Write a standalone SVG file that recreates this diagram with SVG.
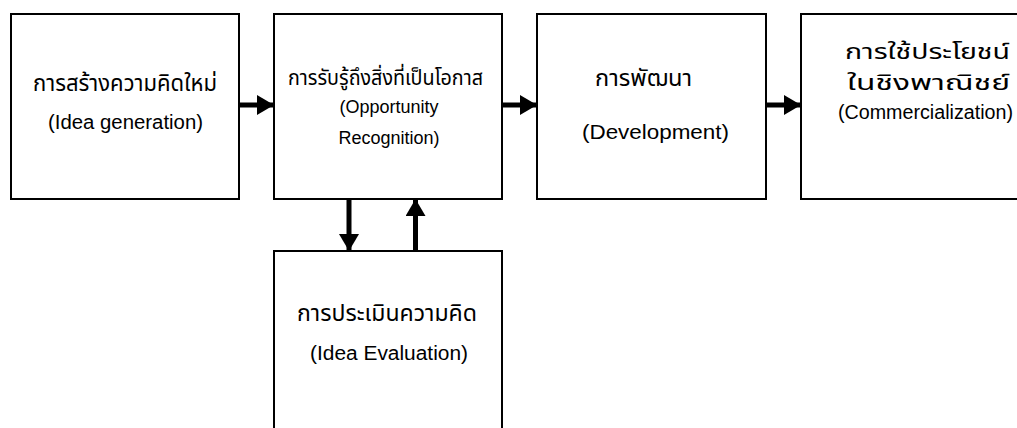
<svg xmlns="http://www.w3.org/2000/svg" width="1017" height="428" viewBox="0 0 1017 428">
<style>
.box{fill:#fff;stroke:#000;stroke-width:2}
.t{font-family:"Liberation Sans","Noto Sans Thai","Noto Sans",sans-serif;font-size:20px;fill:#000;text-anchor:middle}
.th{font-size:23px}
.s{font-size:18px}
.c{stroke:#000;stroke-width:5;fill:none}
</style>
<defs>
<marker id="ah" viewBox="0 0 17 20" refX="17" refY="10" markerWidth="17" markerHeight="20" markerUnits="userSpaceOnUse" orient="auto">
<path d="M0,0 L17,10 L0,20 z" fill="#000"/>
</marker>
</defs>
<rect width="1017" height="428" fill="#fff"/>
<g id="n1">
<rect class="box" x="11" y="14" width="228" height="185"/>
<text class="t th" x="125" y="91" textLength="184" lengthAdjust="spacingAndGlyphs">การสร้างความคิดใหม่</text>
<text class="t" x="125.5" y="129" textLength="155" lengthAdjust="spacingAndGlyphs">(Idea generation)</text>
</g>
<g id="n2">
<rect class="box" x="274" y="14" width="228" height="185"/>
<text class="t" style="font-size:21px" x="385.5" y="85" textLength="195" lengthAdjust="spacingAndGlyphs">การรับรู้ถึงสิ่งที่เป็นโอกาส</text>
<text class="t s" x="389" y="113">(Opportunity</text>
<text class="t s" x="389" y="144">Recognition)</text>
</g>
<g id="n3">
<rect class="box" x="537" y="14" width="229" height="185"/>
<text class="t th" x="643.5" y="86" textLength="97" lengthAdjust="spacingAndGlyphs">การพัฒนา</text>
<text class="t" x="655.5" y="139" textLength="147" lengthAdjust="spacingAndGlyphs">(Development)</text>
</g>
<g id="n4">
<rect class="box" x="801" y="14" width="250" height="185"/>
<text class="t" style="font-size:22px" x="927.5" y="59" textLength="165" lengthAdjust="spacingAndGlyphs">การใช้ประโยชน์</text>
<text class="t" style="font-size:22px" x="928.5" y="90" textLength="163" lengthAdjust="spacingAndGlyphs">ในชิงพาณิชย์</text>
<text class="t" x="925.5" y="119" textLength="175" lengthAdjust="spacingAndGlyphs">(Commercialization)</text>
</g>
<g id="n5">
<rect class="box" x="274" y="251" width="228" height="200"/>
<text class="t th" x="387" y="321" textLength="180" lengthAdjust="spacingAndGlyphs">การประเมินความคิด</text>
<text class="t" x="389" y="360" textLength="158" lengthAdjust="spacingAndGlyphs">(Idea Evaluation)</text>
</g>
<g id="connectors">
<line class="c" x1="239" y1="105" x2="274" y2="105" marker-end="url(#ah)"/>
<line class="c" x1="502" y1="105" x2="537" y2="105" marker-end="url(#ah)"/>
<line class="c" x1="766" y1="105" x2="801" y2="105" marker-end="url(#ah)"/>
<line class="c" x1="349" y1="199" x2="349" y2="251" marker-end="url(#ah)"/>
<line class="c" x1="415.5" y1="251" x2="415.5" y2="199" marker-end="url(#ah)"/>
</g>
</svg>
